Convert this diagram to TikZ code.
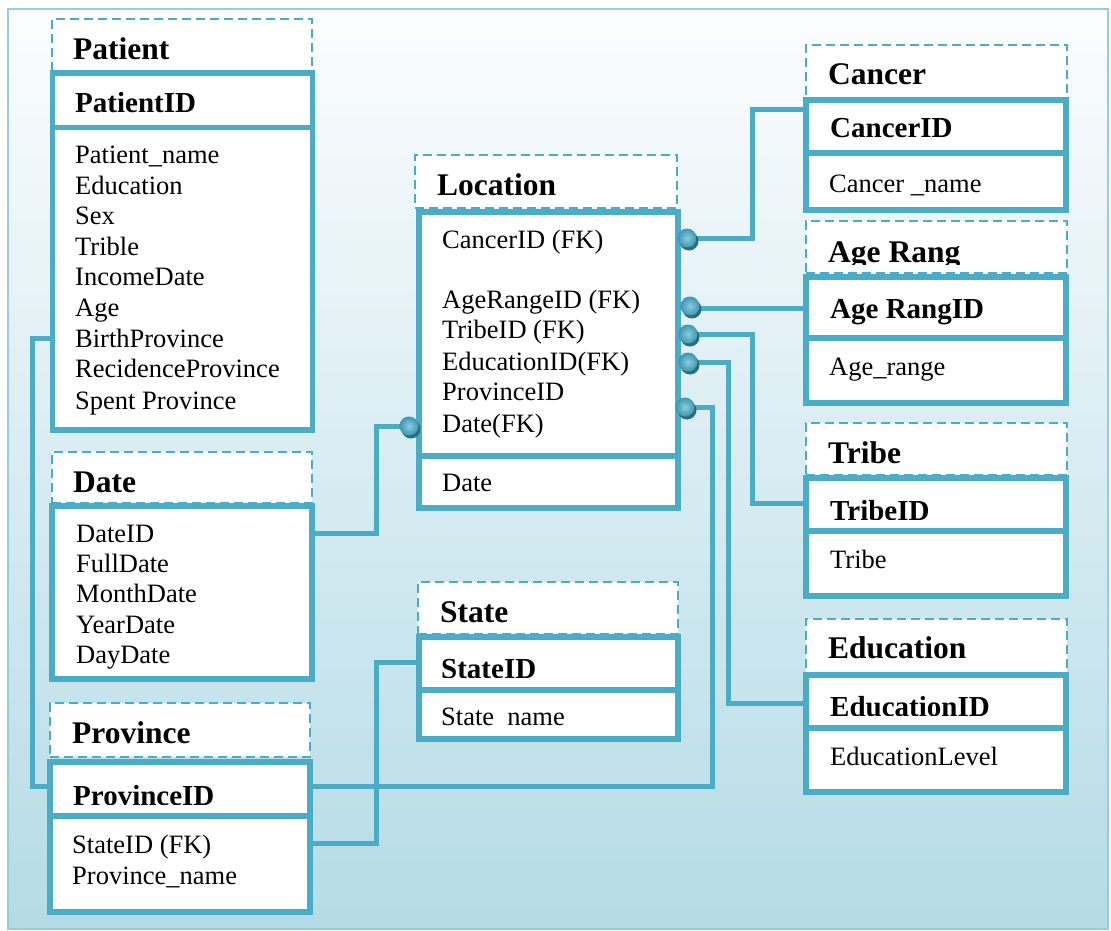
\documentclass[tikz,border=0pt]{standalone}
\usepackage{fontspec}
\setmainfont{Liberation Serif}
\usetikzlibrary{calc}
\definecolor{erblue}{RGB}{75,172,198}
\definecolor{framec}{RGB}{150,205,220}
\definecolor{bgtop}{RGB}{252,253,254}
\definecolor{bgbot}{RGB}{180,219,230}
\definecolor{dotlight}{RGB}{140,205,222}
\definecolor{dotdark}{RGB}{62,150,176}
\definecolor{dotshadow}{RGB}{40,110,130}
\begin{document}
\begin{tikzpicture}[x=1pt,y=-1pt,
  hdrbox/.style={draw=erblue, line width=2.2pt, dash pattern=on 9pt off 5pt,
    fill=white, inner sep=0pt, outer sep=0pt, rectangle},
  entbox/.style={draw=erblue, line width=5.5pt, fill=white, inner sep=0pt,
    outer sep=0pt, rectangle},
  link/.style={draw=erblue, line width=5pt, line join=miter},
  attr/.style={anchor=base west, inner sep=0pt, font=\fontsize{26.5}{30}\selectfont},
  keytxt/.style={anchor=base west, inner sep=0pt, font=\fontsize{29}{33}\selectfont\bfseries},
  ttl/.style={anchor=base west, inner sep=0pt, font=\fontsize{31.5}{36}\selectfont\bfseries}]

% page and shaded frame
\useasboundingbox (0,0) rectangle (1111,931);
\fill[white] (0,0) rectangle (1111,931);
\shade[top color=bgtop, bottom color=bgbot] (8,9) rectangle (1108,929);
\draw[framec, line width=2.5pt] (8,9) rectangle (1108,929);

% ---------- Patient ----------
\node[hdrbox, minimum width=260pt, minimum height=53pt] (pat-h) at (182,45.5) {};
\node[entbox, minimum width=260pt, minimum height=54.5pt] (pat-k) at (182.5,100.25) {};
\node[entbox, minimum width=260pt, minimum height=302.5pt] (pat-a) at (182.5,278.75) {};
\node[ttl] (pat-t) at (73,60) {Patient};
\node[keytxt] (pat-id) at (75,113) {PatientID};
\node[attr] (pa1) at (75,164) {Patient\_name};
\node[attr] (pa2) at (75,194) {Education};
\node[attr] (pa3) at (75,224) {Sex};
\node[attr] (pa4) at (75,255) {Trible};
\node[attr] (pa5) at (75,285) {IncomeDate};
\node[attr] (pa6) at (75,316) {Age};
\node[attr] (pa7) at (75,347) {BirthProvince};
\node[attr] (pa8) at (75,377) {RecidenceProvince};
\node[attr] (pa9) at (75,409) {Spent Province};

% ---------- Date ----------
\node[hdrbox, minimum width=260pt, minimum height=51pt] (dat-h) at (182,477.5) {};
\node[entbox, minimum width=260pt, minimum height=173pt] (dat-a) at (182,592.5) {};
\node[ttl] (dat-t) at (73,492) {Date};
\node[attr] (da1) at (76,542) {DateID};
\node[attr] (da2) at (76,572) {FullDate};
\node[attr] (da3) at (76,602) {MonthDate};
\node[attr] (da4) at (76,633) {YearDate};
\node[attr] (da5) at (76,663) {DayDate};

% ---------- Province ----------
\node[hdrbox, minimum width=260pt, minimum height=54pt] (prv-h) at (180,730) {};
\node[entbox, minimum width=260pt, minimum height=54pt] (prv-k) at (180,789) {};
\node[entbox, minimum width=260pt, minimum height=96pt] (prv-a) at (180,864) {};
\node[ttl] (prv-t) at (72,743) {Province};
\begin{scope}
  \clip (53,765) rectangle (307,804);
  \node[keytxt] (prv-id) at (73,805) {ProvinceID};
\end{scope}
\node[attr] (pr1) at (72,853) {StateID (FK)};
\node[attr] (pr2) at (72,884) {Province\_name};

% ---------- Location ----------
\node[hdrbox, minimum width=262pt, minimum height=53pt] (loc-h) at (546,181.5) {};
\node[entbox, minimum width=259pt, minimum height=244pt] (loc-a) at (548.5,334) {};
\node[entbox, minimum width=259pt, minimum height=52pt] (loc-b) at (548.5,482) {};
\node[ttl] (loc-t) at (437,195) {Location};
\node[attr] (lo1) at (442,248) {CancerID (FK)};
\node[attr] (lo2) at (442,308) {AgeRangeID (FK)};
\node[attr] (lo3) at (442,338) {TribeID (FK)};
\node[attr] (lo4) at (442,370) {EducationID(FK)};
\node[attr] (lo5) at (442,400) {ProvinceID};
\node[attr] (lo6) at (442,432) {Date(FK)};
\node[attr] (lo7) at (442,491) {Date};

% ---------- State ----------
\node[hdrbox, minimum width=260pt, minimum height=52pt] (sta-h) at (548,608) {};
\node[entbox, minimum width=259pt, minimum height=53pt] (sta-k) at (548.5,663.5) {};
\node[entbox, minimum width=259pt, minimum height=49pt] (sta-a) at (548.5,714.5) {};
\node[ttl] (sta-t) at (440,622) {State};
\begin{scope}
  \clip (422,640) rectangle (675,677);
  \node[keytxt] (sta-id) at (441,678) {StateID};
\end{scope}
\node[attr] (st1) at (441,725) {State\hspace{0.5em}name};

% ---------- Cancer ----------
\node[hdrbox, minimum width=261pt, minimum height=53pt] (can-h) at (936.5,71.5) {};
\node[entbox, minimum width=260pt, minimum height=53pt] (can-k) at (936,126.5) {};
\node[entbox, minimum width=260pt, minimum height=57pt] (can-a) at (936,181.5) {};
\node[ttl] (can-t) at (828,85) {Cancer};
\node[keytxt] (can-id) at (830,138) {CancerID};
\node[attr] (ca1) at (829,192) {Cancer \_name};

% ---------- Age range ----------
\node[hdrbox, minimum width=261pt, minimum height=52pt] (age-h) at (936.5,247) {};
\node[entbox, minimum width=260pt, minimum height=61pt] (age-k) at (936,307.5) {};
\node[entbox, minimum width=260pt, minimum height=65pt] (age-a) at (936,370.5) {};
\begin{scope}
  \clip (808,222) rectangle (1065,264);
  \node[ttl] (age-t) at (828,262) {Age Rang};
\end{scope}
\node[keytxt] (age-id) at (830,318) {Age RangID};
\node[attr] (ag1) at (829,375) {Age\_range};

% ---------- Tribe ----------
\node[hdrbox, minimum width=261pt, minimum height=52pt] (tri-h) at (936.5,449) {};
\node[entbox, minimum width=260pt, minimum height=53pt] (tri-k) at (936,504.5) {};
\node[entbox, minimum width=260pt, minimum height=65pt] (tri-a) at (936,563.5) {};
\node[ttl] (tri-t) at (828,463) {Tribe};
\begin{scope}
  \clip (809,481) rectangle (1063,519);
  \node[keytxt] (tri-id) at (830,520) {TribeID};
\end{scope}
\node[attr] (tr1) at (830,568) {Tribe};

% ---------- Education ----------
\node[hdrbox, minimum width=261pt, minimum height=54pt] (edu-h) at (936.5,646) {};
\node[entbox, minimum width=260pt, minimum height=53pt] (edu-k) at (936,701.5) {};
\node[entbox, minimum width=260pt, minimum height=64pt] (edu-a) at (936,760) {};
\node[ttl] (edu-t) at (828,658) {Education};
\begin{scope}
  \clip (809,678) rectangle (1063,715);
  \node[keytxt] (edu-id) at (830,716) {EducationID};
\end{scope}
\node[attr] (ed1) at (830,765) {EducationLevel};

% ---------- connector end points ----------
\coordinate (fk-cancer) at (687,238);
\coordinate (fk-age)    at (690,306);
\coordinate (fk-tribe)  at (688,334);
\coordinate (fk-edu)    at (688,362);
\coordinate (fk-prov)   at (685,407);
\coordinate (fk-date)   at (409,426);
\coordinate (in-cancer) at (806,110);
\coordinate (in-age)    at (806,308);
\coordinate (in-tribe)  at (806,503);
\coordinate (in-edu)    at (806,703);
\coordinate (in-provL)  at (310,786);
\coordinate (in-date)   at (312,533);
\coordinate (in-state)  at (419,662);
\coordinate (in-provS)  at (310,843);
\coordinate (out-pat)   at (52,338);
\coordinate (in-provP)  at (50,786);

% ---------- connectors ----------
\draw[link] (fk-cancer) -| (752,110) -- (in-cancer);
\draw[link] (fk-age |- in-age) -- (in-age);
\draw[link] (fk-tribe) -| (752,503) -- (in-tribe);
\draw[link] (fk-edu) -| (728,703) -- (in-edu);
\draw[link] (fk-prov) -| (712,786) -- (in-provL);
\draw[link] (fk-date) -| (376,533) -- (in-date);
\draw[link] (in-state) -| (376,843) -- (in-provS);
\draw[link] (out-pat) -| (32,786) -- (in-provP);

% ---------- connector knobs ----------
\foreach \p in {fk-cancer,fk-age,fk-tribe,fk-edu,fk-prov,fk-date}{
  \fill[dotshadow] ($(\p)+(2,3)$) circle (9.5pt);
  \shade[inner color=dotlight, outer color=dotdark] (\p) circle (9.5pt);
}
\end{tikzpicture}
\end{document}
